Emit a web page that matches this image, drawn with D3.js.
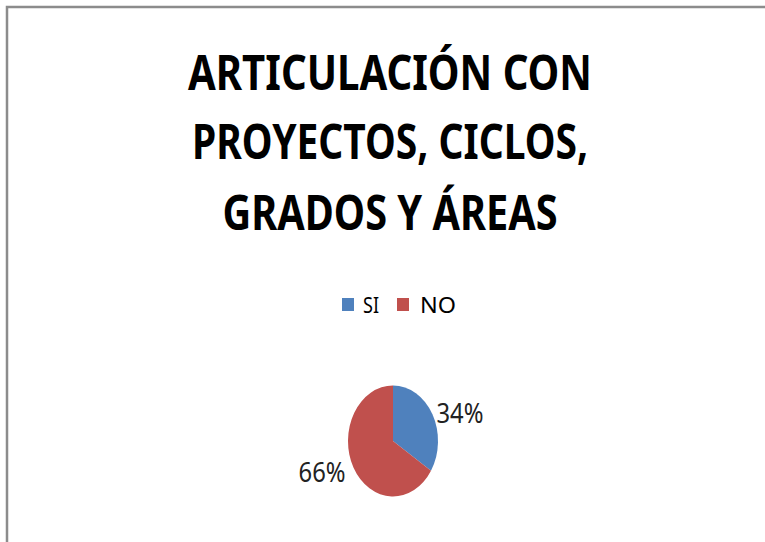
<!DOCTYPE html>
<html>
<head>
<meta charset="utf-8">
<script src="https://cdn.jsdelivr.net/npm/d3@7"></script>
<style>
  body { margin: 0; background: #fff; }
  text { font-family: "Noto Sans", "Open Sans", sans-serif; }
</style>
</head>
<body>
<div id="chart"></div>
<script>
var titleLines = ["ARTICULACIÓN CON", "PROYECTOS, CICLOS,", "GRADOS Y ÁREAS"];
var categories = ["SI", "NO"];
var values = [34, 66];
var colors = ["#4F81BD", "#C0504D"];

var width = 765, height = 542;

var svg = d3.select("#chart").append("svg")
    .attr("width", width)
    .attr("height", height);

// frame (only top and left edges show in the crop)
svg.append("path")
    .attr("d", "M7," + height + " L7,7 L" + width + ",7")
    .attr("fill", "none")
    .attr("stroke", "#8c8c8c")
    .attr("stroke-width", 2.5);

// title
var titleWidths = [404, 396, 335];
var titleBase = [90, 159, 230];
svg.selectAll(".title")
    .data(titleLines)
    .enter().append("text")
    .attr("class", "title")
    .attr("x", 390)
    .attr("y", function(d, i){ return titleBase[i]; })
    .attr("text-anchor", "middle")
    .attr("font-size", 49)
    .attr("font-weight", "bold")
    .attr("fill", "#000")
    .attr("textLength", function(d, i){ return titleWidths[i]; })
    .attr("lengthAdjust", "spacingAndGlyphs")
    .text(function(d){ return d; });

// legend
var legendX = [342, 397];
var legendTextW = [16, 36];
var legend = svg.selectAll(".legend")
    .data(categories)
    .enter().append("g")
    .attr("class", "legend")
    .attr("transform", function(d, i){ return "translate(" + legendX[i] + ",298)"; });

legend.append("rect")
    .attr("width", 12)
    .attr("height", 13)
    .attr("fill", function(d, i){ return colors[i]; });

legend.append("text")
    .attr("x", function(d, i){ return i === 0 ? 21 : 23; })
    .attr("y", 15)
    .attr("font-size", 22)
    .attr("fill", "#000")
    .attr("textLength", function(d, i){ return legendTextW[i]; })
    .attr("lengthAdjust", "spacingAndGlyphs")
    .text(function(d){ return d; });

// pie (squashed horizontally like the original picture)
var cx = 393, cy = 441, r = 45, sy = 1.233;

var pie = d3.pie().sort(null)(values);
var arc = d3.arc().innerRadius(0).outerRadius(r);
var labelArc = d3.arc().innerRadius(r).outerRadius(r);

svg.append("g")
    .attr("transform", "translate(" + cx + "," + cy + ") scale(1," + sy + ")")
    .selectAll("path")
    .data(pie)
    .enter().append("path")
    .attr("d", arc)
    .attr("fill", function(d, i){ return colors[i]; });

svg.selectAll(".pct")
    .data(pie)
    .enter().append("text")
    .attr("class", "pct")
    .attr("x", function(d){
        var c = labelArc.centroid(d);
        return cx + c[0] + (c[0] > 0 ? 4 : -8);
    })
    .attr("y", function(d){
        var c = labelArc.centroid(d);
        return cy + c[1] * sy + (c[0] > 0 ? 9 : 14);
    })
    .attr("text-anchor", function(d){ return labelArc.centroid(d)[0] > 0 ? "start" : "end"; })
    .attr("font-size", 28)
    .attr("fill", "#222")
    .attr("textLength", 47)
    .attr("lengthAdjust", "spacingAndGlyphs")
    .text(function(d){ return d.value + "%"; });
</script>
</body>
</html>
